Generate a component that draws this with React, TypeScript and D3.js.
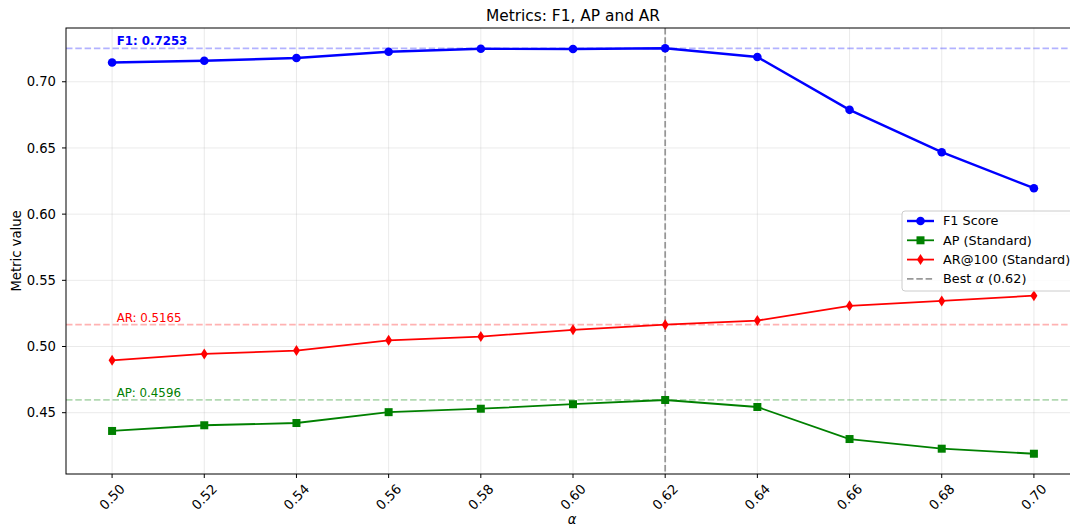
import React from "react";
import * as d3 from "d3";

const alphas = [0.5, 0.52, 0.54, 0.56, 0.58, 0.6, 0.62, 0.64, 0.66, 0.68, 0.7];
const f1Values = [0.7146, 0.7159, 0.7179, 0.7227, 0.7249, 0.7247, 0.7253, 0.7187, 0.6788, 0.6468, 0.6196];
const apValues = [0.4362, 0.4405, 0.4422, 0.4504, 0.4530, 0.4564, 0.4596, 0.4543, 0.4301, 0.4228, 0.4190];
const arValues = [0.4896, 0.4944, 0.4969, 0.5047, 0.5075, 0.5126, 0.5165, 0.5196, 0.5307, 0.5344, 0.5384];
const yTicks = [0.45, 0.5, 0.55, 0.6, 0.65, 0.7];
const bestAlpha = 0.62;
const bestF1 = 0.7253;
const bestAP = 0.4596;
const bestAR = 0.5165;

const W = 1070;
const H = 527;
const left = 66;
const right = 1080;
const top = 28;
const bottom = 474;

const FONT = "DejaVu Sans, sans-serif";
const TICK_FS = 13.2;
const LEG_FS = 12.8;

export default function App() {
  const all = [...f1Values, ...apValues, ...arValues];
  const ymin = d3.min(all)!;
  const ymax = d3.max(all)!;
  const pad = (ymax - ymin) * 0.05;
  const x = d3.scaleLinear().domain([0.49, 0.71]).range([left, right]);
  const y = d3.scaleLinear().domain([ymin - pad, ymax + pad]).range([bottom, top]);

  const line = d3
    .line<number>()
    .x((_, i) => x(alphas[i]))
    .y((d) => y(d));

  const diamond = (cx: number, cy: number, w: number, h: number) =>
    `M${cx},${cy - h / 2}L${cx + w / 2},${cy}L${cx},${cy + h / 2}L${cx - w / 2},${cy}Z`;

  const legendX = 902;
  const legendY = 211;
  const legendItems = [
    { label: "F1 Score", color: "#0000ff", kind: "circle" },
    { label: "AP (Standard)", color: "#008000", kind: "square" },
    { label: "AR@100 (Standard)", color: "#ff0000", kind: "diamond" },
    { label: "Best", color: "#808080", kind: "dash" },
  ];

  return (
    <svg
      width={W}
      height={H}
      style={{ position: "absolute", left: 0, top: 0, background: "#fff" }}
      fontFamily={FONT}
    >
      <rect x={0} y={0} width={W} height={H} fill="#fff" />
      <defs>
        <clipPath id="plotclip">
          <rect x={left} y={top} width={right - left} height={bottom - top} />
        </clipPath>
      </defs>
      {/* grid */}
      {alphas.map((a) => (
        <line key={"gx" + a} x1={x(a)} x2={x(a)} y1={top} y2={bottom} stroke="#b0b0b0" strokeOpacity={0.3} strokeWidth={0.9} />
      ))}
      {yTicks.map((t) => (
        <line key={"gy" + t} x1={left} x2={right} y1={y(t)} y2={y(t)} stroke="#b0b0b0" strokeOpacity={0.3} strokeWidth={0.9} />
      ))}
      <g clipPath="url(#plotclip)">
        {/* reference lines */}
        <line x1={left} x2={right} y1={y(bestF1)} y2={y(bestF1)} stroke="#0000ff" strokeOpacity={0.3} strokeWidth={1.75} strokeDasharray="6.5,2.8" />
        <line x1={left} x2={right} y1={y(bestAR)} y2={y(bestAR)} stroke="#ff0000" strokeOpacity={0.3} strokeWidth={1.75} strokeDasharray="6.5,2.8" />
        <line x1={left} x2={right} y1={y(bestAP)} y2={y(bestAP)} stroke="#008000" strokeOpacity={0.3} strokeWidth={1.75} strokeDasharray="6.5,2.8" />
        <line x1={x(bestAlpha)} x2={x(bestAlpha)} y1={top} y2={bottom} stroke="#808080" strokeOpacity={0.8} strokeWidth={1.75} strokeDasharray="6.5,2.8" />
        {/* series */}
        <path d={line(f1Values)!} fill="none" stroke="#0000ff" strokeWidth={2.4} />
        {f1Values.map((v, i) => (
          <circle key={"f" + i} cx={x(alphas[i])} cy={y(v)} r={4.3} fill="#0000ff" />
        ))}
        <path d={line(apValues)!} fill="none" stroke="#008000" strokeWidth={1.8} />
        {apValues.map((v, i) => (
          <rect key={"a" + i} x={x(alphas[i]) - 4} y={y(v) - 4} width={8} height={8} fill="#008000" />
        ))}
        <path d={line(arValues)!} fill="none" stroke="#ff0000" strokeWidth={1.8} />
        {arValues.map((v, i) => (
          <path key={"r" + i} d={diamond(x(alphas[i]), y(v), 7, 11)} fill="#ff0000" />
        ))}
      </g>
      {/* annotations */}
      <text x={x(0.501)} y={y(bestF1) - 3} fontSize={11.8} fontWeight="bold" fill="#0000ff">
        F1: {bestF1.toFixed(4)}
      </text>
      <text x={x(0.501)} y={y(bestAR) - 3} fontSize={11.8} fill="#ff0000">
        AR: {bestAR.toFixed(4)}
      </text>
      <text x={x(0.501)} y={y(bestAP) - 3} fontSize={11.8} fill="#008000">
        AP: {bestAP.toFixed(4)}
      </text>
      {/* spines */}
      <rect x={left} y={top} width={right - left} height={bottom - top} fill="none" stroke="#000" strokeWidth={1} />
      {/* y axis */}
      {yTicks.map((t) => (
        <g key={"yt" + t}>
          <line x1={left - 4} x2={left} y1={y(t)} y2={y(t)} stroke="#000" strokeWidth={1} />
          <text x={left - 10} y={y(t)} dy="0.35em" textAnchor="end" fontSize={TICK_FS} fill="#000">
            {t.toFixed(2)}
          </text>
        </g>
      ))}
      {/* x axis */}
      {alphas.map((a) => (
        <g key={"xt" + a}>
          <line x1={x(a)} x2={x(a)} y1={bottom} y2={bottom + 4} stroke="#000" strokeWidth={1} />
          <text
            x={0}
            y={0}
            dy="0.35em"
            textAnchor="middle"
            fontSize={TICK_FS}
            fill="#000"
            transform={`translate(${x(a)},${bottom + 23}) rotate(-45)`}
          >
            {a.toFixed(2)}
          </text>
        </g>
      ))}
      {/* axis labels */}
      <text x={(left + right) / 2 - 1} y={524} fontSize={TICK_FS} fontStyle="italic" textAnchor="middle" fill="#000">
        α
      </text>
      <text transform={`translate(21,${(top + bottom) / 2}) rotate(-90)`} textAnchor="middle" fontSize={TICK_FS} fill="#000">
        Metric value
      </text>
      {/* title */}
      <text x={(left + right) / 2} y={21} textAnchor="middle" fontSize={15.4} fill="#000">
        Metrics: F1, AP and AR
      </text>
      {/* legend */}
      <rect x={legendX} y={legendY} width={180} height={80} rx={3} fill="#fff" fillOpacity={0.8} stroke="#cccccc" strokeWidth={1} />
      {legendItems.map((it, i) => {
        const cy = legendY + 10 + i * 19.3;
        const x1 = legendX + 5;
        const x2 = legendX + 32;
        const cx = (x1 + x2) / 2;
        return (
          <g key={it.label}>
            <line x1={x1} x2={x2} y1={cy} y2={cy} stroke={it.color} strokeWidth={it.kind === "circle" ? 2.4 : 1.8} strokeDasharray={it.kind === "dash" ? "6.5,2.8" : undefined} strokeOpacity={it.kind === "dash" ? 0.8 : 1} />
            {it.kind === "circle" && <circle cx={cx} cy={cy} r={4.3} fill={it.color} />}
            {it.kind === "square" && <rect x={cx - 4} y={cy - 4} width={8} height={8} fill={it.color} />}
            {it.kind === "diamond" && <path d={diamond(cx, cy, 7, 11)} fill={it.color} />}
            <text x={legendX + 41} y={cy} dy="0.35em" fontSize={LEG_FS} fill="#000">
              {it.kind === "dash" ? (
                <>
                  Best <tspan fontStyle="italic">α</tspan> ({bestAlpha.toFixed(2)})
                </>
              ) : (
                it.label
              )}
            </text>
          </g>
        );
      })}
    </svg>
  );
}
